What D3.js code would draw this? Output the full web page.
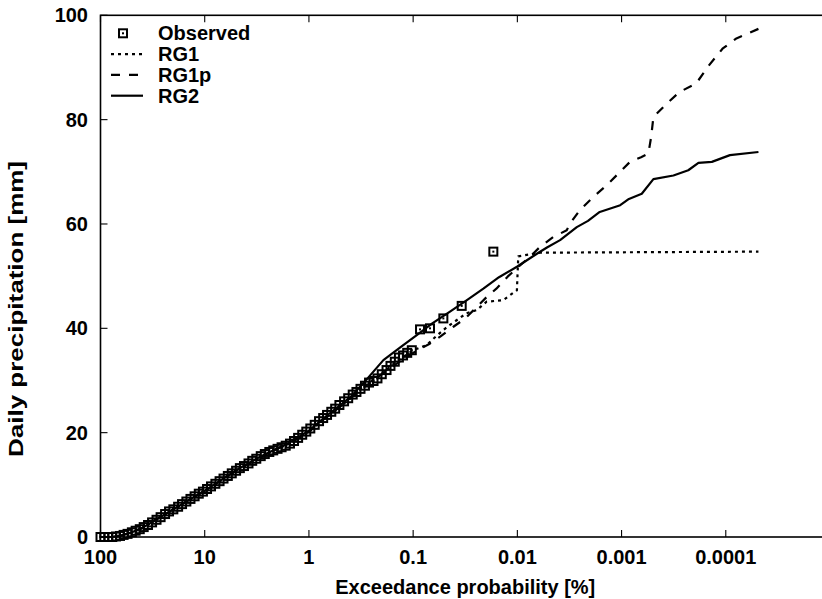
<!DOCTYPE html>
<html>
<head>
<meta charset="utf-8">
<script src="https://cdn.jsdelivr.net/npm/d3@7"></script>
<style>
  html, body { margin: 0; padding: 0; background: #fff; }
  svg { display: block; }
  text { font-family: "Liberation Sans", Arial, Helvetica, sans-serif; font-weight: bold; fill: #000; }
</style>
</head>
<body>
<svg id="chart" width="822" height="599"></svg>
<script>
// ---- data ----
const xTickValues = [100, 10, 1, 0.1, 0.01, 0.001, 0.0001];
const xTickLabels = ["100", "10", "1", "0.1", "0.01", "0.001", "0.0001"];
const yTickValues = [0, 20, 40, 60, 80, 100];
const seriesNames = ["Observed", "RG1", "RG1p", "RG2"];

const obsP = [100, 92, 84, 77, 71, 65, 60, 55, 50, 46, 42, 38.5, 35, 32, 29, 26.5, 24, 22, 20, 18, 16.5, 15, 13.7, 12.5, 11.4, 10.4, 9.5, 8.7, 7.9, 7.2, 6.6, 6.0, 5.5, 5.0, 4.6, 4.2, 3.8, 3.5, 3.2, 2.9, 2.65, 2.4, 2.2, 2.0, 1.83, 1.67, 1.52, 1.39, 1.27, 1.16, 1.06, 0.97, 0.88, 0.80, 0.73, 0.67, 0.61, 0.56, 0.51, 0.46, 0.42, 0.38, 0.35, 0.32, 0.29, 0.265, 0.24, 0.22, 0.20, 0.18, 0.165, 0.15, 0.137, 0.125, 0.114, 0.103, 0.0859, 0.0689, 0.0513, 0.0342, 0.017];
const obsV = [0, 0, 0, 0, 0.1, 0.2, 0.4, 0.6, 0.9, 1.2, 1.5, 1.9, 2.3, 2.8, 3.3, 3.8, 4.4, 4.9, 5.3, 5.8, 6.3, 6.8, 7.3, 7.8, 8.3, 8.7, 9.2, 9.7, 10.2, 10.7, 11.2, 11.7, 12.2, 12.7, 13.2, 13.6, 14.1, 14.6, 15.0, 15.5, 15.9, 16.3, 16.6, 16.9, 17.2, 17.5, 17.9, 18.4, 19.0, 19.6, 20.2, 20.8, 21.5, 22.2, 22.8, 23.4, 24.0, 24.6, 25.3, 26.0, 26.6, 27.3, 27.8, 28.4, 29.0, 29.6, 29.9, 30.4, 31.2, 32.0, 32.8, 33.6, 34.4, 34.8, 35.3, 35.8, 39.8, 40.0, 41.9, 44.3, 54.7];

const rg1P = [100, 80, 65, 50, 40, 30, 20, 15, 10, 7, 5, 3, 2, 1.5, 1.2, 1, 0.7, 0.5, 0.3, 0.2, 0.15, 0.1, 0.074, 0.06, 0.047, 0.0307, 0.0245, 0.0197, 0.0137, 0.0101, 0.0098, 0.0060, 0.0000486];
const rg1V = [0, 0, 0.2, 0.9, 1.7, 3.2, 5.3, 6.8, 8.8, 10.8, 12.7, 15.2, 16.9, 18.0, 19.2, 20.2, 22.8, 25.0, 28.8, 31.3, 33.4, 35.8, 36.8, 38.5, 40.3, 42.9, 43.5, 45.1, 45.4, 47.3, 53.8, 54.5, 54.7];

const rg1pP = [100, 80, 65, 50, 40, 30, 20, 15, 10, 7, 5, 3, 2, 1.5, 1.2, 1, 0.7, 0.5, 0.3, 0.2, 0.15, 0.1, 0.07, 0.055, 0.0411, 0.0317, 0.0245, 0.0197, 0.0159, 0.0124, 0.0095, 0.0075, 0.00607, 0.00452, 0.00336, 0.00312, 0.00252, 0.00187, 0.00139, 0.00107, 0.00083, 0.00065, 0.000553, 0.00052, 0.000495, 0.000367, 0.000278, 0.000193, 0.000145, 0.0001075, 0.0000802, 0.0000486];
const rg1pV = [0, 0, 0.2, 0.9, 1.7, 3.2, 5.3, 6.8, 8.8, 10.8, 12.7, 15.2, 16.9, 18.0, 19.2, 20.2, 22.8, 25.0, 28.6, 31.2, 33.0, 35.3, 37.0, 38.4, 40.3, 41.9, 44.1, 46.0, 47.6, 49.9, 52.0, 53.8, 55.6, 57.5, 58.8, 60.1, 62.6, 65.2, 67.4, 69.7, 71.9, 72.8, 73.5, 76.7, 80.5, 83.1, 85.3, 86.9, 90.4, 93.6, 95.5, 97.4];

const rg2P = [100, 80, 65, 50, 40, 30, 20, 15, 10, 7, 5, 3, 2, 1.5, 1.2, 1, 0.7, 0.5, 0.4, 0.3, 0.193, 0.13, 0.0923, 0.065, 0.0443, 0.03, 0.0212, 0.015, 0.0101, 0.0065, 0.0052, 0.00389, 0.00269, 0.0021, 0.00162, 0.00103, 0.00085, 0.00064, 0.000495, 0.000318, 0.000229, 0.000183, 0.000136, 0.0000912, 0.0000486];
const rg2V = [0, 0, 0.2, 0.9, 1.7, 3.2, 5.3, 6.8, 8.9, 10.9, 12.8, 15.3, 17.0, 18.2, 19.4, 20.4, 23.0, 25.3, 26.8, 29.5, 33.9, 36.5, 38.7, 41.0, 43.2, 45.5, 47.6, 49.8, 51.8, 54.3, 55.5, 56.9, 59.4, 60.6, 62.3, 63.6, 64.8, 65.8, 68.6, 69.3, 70.3, 71.7, 71.9, 73.2, 73.8];

// ---- layout ----
const svg = d3.select("#chart");
const L = 100.5, R = 830, T = 15.3, B = 537;
const x = d3.scaleLog().domain([100, 1e-5]).range([L, R]);
const y = d3.scaleLinear().domain([0, 100]).range([B, T]);

const zip = (a, b) => a.map((v, i) => [v, b[i]]);
const line = d3.line().x(d => x(d[0])).y(d => y(d[1]));

// frame
svg.append("rect").attr("x", L).attr("y", T).attr("width", R - L).attr("height", B - T)
  .attr("fill", "none").attr("stroke", "#000").attr("stroke-width", 1.6);

// ticks (inward, mirrored on top)
const tickLen = 7;
const g = svg.append("g").attr("stroke", "#000").attr("stroke-width", 1.1);
xTickValues.forEach(v => {
  g.append("line").attr("x1", x(v)).attr("x2", x(v)).attr("y1", B).attr("y2", B - tickLen);
  g.append("line").attr("x1", x(v)).attr("x2", x(v)).attr("y1", T).attr("y2", T + tickLen);
});
yTickValues.forEach(v => {
  g.append("line").attr("x1", L).attr("x2", L + tickLen).attr("y1", y(v)).attr("y2", y(v));
});

// tick labels
svg.append("g").selectAll("text").data(xTickValues).join("text")
  .attr("x", d => x(d)).attr("y", 564).attr("text-anchor", "middle")
  .attr("font-size", 20).text((d, i) => xTickLabels[i]);
svg.append("g").selectAll("text").data(yTickValues).join("text")
  .attr("x", 88).attr("y", d => y(d) + 7).attr("text-anchor", "end")
  .attr("font-size", 20).text(d => d);

// axis titles
svg.append("text").attr("x", (L + R) / 2).attr("y", 594).attr("text-anchor", "middle")
  .attr("font-size", 20).text("Exceedance probability [%]");
svg.append("text").attr("transform", "translate(23,309) rotate(-90)").attr("text-anchor", "middle")
  .attr("font-size", 20).attr("textLength", 296).attr("lengthAdjust", "spacingAndGlyphs")
  .text("Daily precipitation [mm]");

const plot = svg.append("g");

const styles = {
  RG1: { dash: "3,4" },
  RG1p: { dash: "9,9" },
  RG2: { dash: null }
};
const lineData = { RG1: zip(rg1P, rg1V), RG1p: zip(rg1pP, rg1pV), RG2: zip(rg2P, rg2V) };

// observed markers
function marker(sel, cx, cy) {
  sel.append("rect").attr("x", cx - 4).attr("y", cy - 4).attr("width", 8).attr("height", 8)
    .attr("fill", "none").attr("stroke", "#000").attr("stroke-width", 2);
  sel.append("rect").attr("x", cx - 1).attr("y", cy - 1).attr("width", 2).attr("height", 2).attr("fill", "#000");
}
const obsG = plot.append("g");
zip(obsP, obsV).forEach(d => marker(obsG, x(d[0]), y(d[1])));

["RG1", "RG1p", "RG2"].forEach(k => {
  plot.append("path").datum(lineData[k]).attr("d", line)
    .attr("fill", "none").attr("stroke", "#000").attr("stroke-width", 2.2)
    .attr("stroke-dasharray", styles[k].dash).attr("stroke-linejoin", "round");
});

// legend
const legRows = [33.3, 54.1, 74.9, 95.7];
const leg = svg.append("g");
marker(leg, 123, legRows[0]);
["RG1", "RG1p", "RG2"].forEach((k, i) => {
  leg.append("line").attr("x1", 111).attr("x2", 143).attr("y1", legRows[i + 1]).attr("y2", legRows[i + 1])
    .attr("stroke", "#000").attr("stroke-width", 2.2).attr("stroke-dasharray", styles[k].dash);
});
seriesNames.forEach((n, i) => {
  leg.append("text").attr("x", 158).attr("y", legRows[i] + 7).attr("font-size", 20).text(n);
});
</script>
</body>
</html>
